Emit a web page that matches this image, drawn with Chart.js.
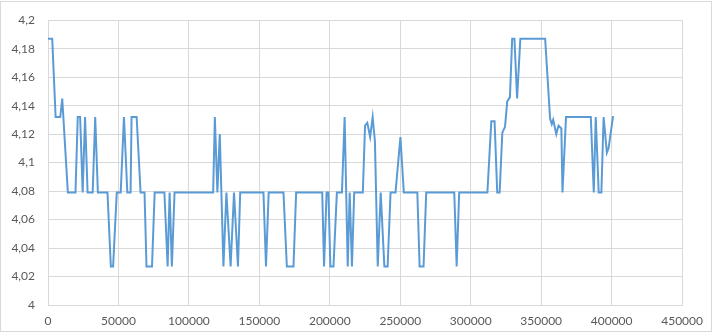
<!DOCTYPE html>
<html>
<head>
<meta charset="utf-8">
<script src="https://cdn.jsdelivr.net/npm/chart.js@4/dist/chart.umd.min.js"></script>
<style>
html,body{margin:0;padding:0;background:#fff;}
#wrap{width:712px;height:332px;position:relative;}
</style>
</head>
<body>
<div id="wrap"><canvas id="c" width="712" height="332"></canvas></div>
<script>
const xValues = [0,3000,5400,8700,10100,14100,19500,21100,22800,24600,26300,28100,31700,33500,35400,42200,44600,46200,48800,51600,53900,56300,58600,59300,62900,65700,68500,69900,73800,75700,82600,84900,86300,87900,89800,117200,118400,120200,121900,124500,126600,129600,132000,134800,136400,152900,154700,156600,167100,169500,174200,176100,194600,195900,197700,199000,200400,202600,205000,208600,210500,212700,214100,215700,217300,223400,225000,226600,228600,230400,232000,234000,236100,238700,241000,243100,246600,250100,252500,262100,263700,266500,268400,288300,290000,291800,311800,314600,316900,318800,320500,322400,324300,325900,327800,329400,331000,332900,335200,352800,356300,357500,358500,360700,362300,364300,365100,367600,385200,387300,388700,390800,392700,394300,396600,397800,400900,401600];
const yValues = [4.187,4.187,4.132,4.132,4.145,4.079,4.079,4.132,4.132,4.079,4.132,4.079,4.079,4.132,4.079,4.079,4.027,4.027,4.079,4.079,4.132,4.079,4.079,4.132,4.132,4.079,4.079,4.027,4.027,4.079,4.079,4.027,4.079,4.027,4.079,4.079,4.132,4.079,4.12,4.027,4.079,4.027,4.079,4.027,4.079,4.079,4.027,4.079,4.079,4.027,4.027,4.079,4.079,4.027,4.079,4.079,4.027,4.027,4.079,4.079,4.132,4.027,4.079,4.027,4.079,4.079,4.126,4.128,4.118,4.132,4.115,4.027,4.079,4.027,4.027,4.079,4.079,4.118,4.079,4.079,4.027,4.027,4.079,4.079,4.027,4.079,4.079,4.129,4.129,4.079,4.079,4.121,4.125,4.143,4.146,4.187,4.187,4.145,4.187,4.187,4.131,4.127,4.13,4.12,4.126,4.124,4.079,4.132,4.132,4.079,4.132,4.079,4.079,4.132,4.107,4.11,4.132,4.132];
const xTicks = [0,50000,100000,150000,200000,250000,300000,350000,400000,450000];
const yTicks = [4,4.02,4.04,4.06,4.08,4.1,4.12,4.14,4.16,4.18,4.2];

const points = xValues.map((x,i)=>({x:x,y:yValues[i]}));

const borderPlugin = {
  id:'outerBorder',
  afterDraw(chart){
    const ctx = chart.ctx;
    ctx.save();
    ctx.strokeStyle = '#d9d9d9';
    ctx.lineWidth = 1;
    ctx.strokeRect(0.5,1.5,711,330);
    ctx.restore();
  }
};

new Chart(document.getElementById('c'), {
  type:'line',
  data:{datasets:[{
    data:points,
    borderColor:'#5B9BD5',
    borderWidth:2,
    pointRadius:0,
    tension:0,
    fill:false
  }]},
  options:{
    responsive:false,
    animation:false,
    layout:{padding:{left:0,right:24,top:17,bottom:0}},
    plugins:{legend:{display:false},tooltip:{enabled:false}},
    scales:{
      x:{
        type:'linear',
        min:0,max:450000,
        afterBuildTicks(s){ s.ticks = xTicks.map(v=>({value:v})); },
        afterFit(s){ s.height = 27; },
        grid:{color:'#d9d9d9',drawTicks:false,lineWidth:1},
        border:{color:'#d9d9d9'},
        ticks:{color:'#595959',font:{family:'Lato',size:12},padding:9,maxRotation:0,autoSkip:false,
          callback:(v)=>String(v)}
      },
      y:{
        min:4,max:4.2,
        afterBuildTicks(s){ s.ticks = yTicks.map(v=>({value:v})); },
        afterFit(s){ s.width = 48; },
        grid:{color:'#d9d9d9',drawTicks:false,lineWidth:1},
        border:{color:'#d9d9d9'},
        ticks:{color:'#595959',font:{family:'Lato',size:12},padding:13,autoSkip:false,
          callback:(v)=>String(Number(v.toFixed(2))).replace('.',',')}
      }
    }
  },
  plugins:[borderPlugin]
});
</script>
</body>
</html>
